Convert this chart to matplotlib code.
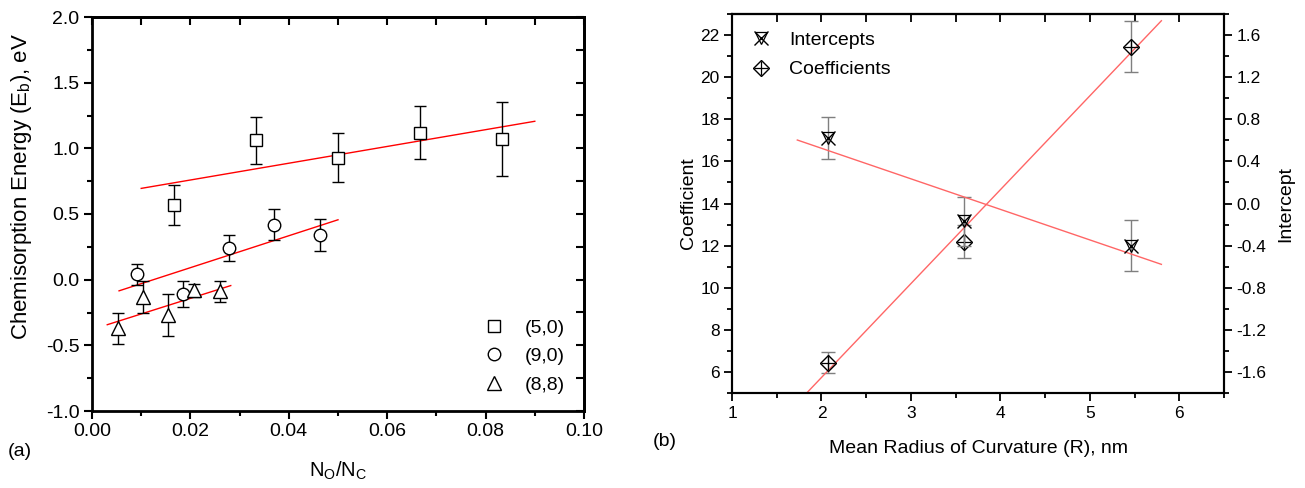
import matplotlib
matplotlib.use('Agg')
import matplotlib.pyplot as plt
from matplotlib.ticker import MultipleLocator, FixedLocator, NullFormatter
from matplotlib.lines import Line2D
from matplotlib.legend_handler import HandlerTuple

plt.rcParams['font.family'] = ['Liberation Sans', 'DejaVu Sans']

# ---------------- Panel (a) data ----------------
x50 = [0.0167, 0.0333, 0.0500, 0.0667, 0.0833]
y50 = [0.57, 1.06, 0.93, 1.12, 1.07]
e50 = [0.15, 0.18, 0.19, 0.20, 0.28]
fit50_x = [0.010, 0.090]
fit50_y = [0.695, 1.206]

x90 = [0.0092, 0.0185, 0.0278, 0.0370, 0.0464]
y90 = [0.04, -0.11, 0.24, 0.42, 0.34]
e90 = [0.08, 0.10, 0.10, 0.12, 0.12]
fit90_x = [0.0055, 0.050]
fit90_y = [-0.085, 0.456]

x88 = [0.0052, 0.0104, 0.0155, 0.0208, 0.0260]
y88 = [-0.37, -0.13, -0.27, -0.08, -0.09]
e88 = [0.12, 0.12, 0.16, 0.05, 0.08]
fit88_x = [0.0031, 0.0282]
fit88_y = [-0.343, -0.045]

legend_a = ['(5,0)', '(9,0)', '(8,8)']

# ---------------- Panel (b) data ----------------
radius = [2.07, 3.59, 5.46]
coeff = [6.44, 12.19, 21.45]
coeff_err = [0.50, 0.80, 1.20]
intercept = [0.62, -0.17, -0.40]
intercept_err = [0.20, 0.23, 0.24]
fitc_x = [1.835, 5.80]
fitc_y = [5.0, 22.68]
fiti_x = [1.73, 5.80]
fiti_y = [0.603, -0.578]

W, H = 1305, 488
fig = plt.figure(figsize=(W / 100, H / 100), dpi=100)

# ================= Panel (a) =================
ax = fig.add_axes([92 / W, (H - 411) / H, 492 / W, 394 / H])
common = dict(color='black', ecolor='black', elinewidth=1.0, capsize=4.5,
              capthick=1.0, linestyle='none', markerfacecolor='white',
              markeredgecolor='black', markeredgewidth=1.0, zorder=3)
ax.errorbar(x50, y50, yerr=e50, marker='s', markersize=8, **common)
ax.errorbar(x90, y90, yerr=e90, marker='o', markersize=9, **common)
ax.errorbar(x88, y88, yerr=e88, marker='^', markersize=10, **common)
ax.plot(fit50_x, fit50_y, color='red', lw=1.0, zorder=2)
ax.plot(fit90_x, fit90_y, color='red', lw=1.0, zorder=2)
ax.plot(fit88_x, fit88_y, color='red', lw=1.0, zorder=2)

ax.set_xlim(0, 0.10)
ax.set_ylim(-1.0, 2.0)
ax.xaxis.set_major_locator(MultipleLocator(0.02))
ax.xaxis.set_minor_locator(MultipleLocator(0.01))
ax.yaxis.set_major_locator(MultipleLocator(0.5))
ax.yaxis.set_minor_locator(MultipleLocator(0.25))
ax.xaxis.set_major_formatter(plt.FuncFormatter(lambda v, p: f'{v:.2f}'))
ax.yaxis.set_major_formatter(plt.FuncFormatter(lambda v, p: f'{v:.1f}'))
ax.tick_params(which='both', direction='out', labelsize=14, width=1.5)
ax.tick_params(which='major', length=6, pad=3)
ax.tick_params(which='minor', length=3.5)
# inward ticks on top and right
sa_top = ax.secondary_xaxis('top')
sa_top.xaxis.set_major_locator(MultipleLocator(0.01))
sa_top.xaxis.set_major_formatter(NullFormatter())
sa_top.tick_params(direction='in', length=6, width=1.5)
sa_right = ax.secondary_yaxis('right')
sa_right.yaxis.set_major_locator(MultipleLocator(0.25))
sa_right.yaxis.set_major_formatter(NullFormatter())
sa_right.tick_params(direction='in', length=6, width=1.5)
for s in list(ax.spines.values()) + [sa_top.spines['top'], sa_right.spines['right']]:
    s.set_linewidth(2.0)
ax.set_ylabel('Chemisorption Energy (E$_\\mathregular{b}$), eV', fontsize=16)
ax.yaxis.set_label_coords(-0.118, 0.569)
ax.set_xlabel('N$_\\mathregular{O}$/N$_\\mathregular{C}$', fontsize=14.5, labelpad=14)

hs = [Line2D([], [], marker=m, ls='none', mfc='white', mec='black', mew=1.0, ms=ms)
      for m, ms in (('s', 8), ('o', 9), ('^', 10))]
ax.legend(hs, legend_a, loc='lower right', bbox_to_anchor=(0.997, 0.0),
          frameon=False, fontsize=14, handlelength=1.0, handletextpad=1.1,
          labelspacing=0.55)
fig.text(20 / W, 1 - 452 / H, '(a)', fontsize=14, ha='center', va='center')

# ================= Panel (b) =================
bx = fig.add_axes([732 / W, (H - 393) / H, 492 / W, 379 / H])
bx2 = bx.twinx()
gray = '#7f7f7f'
bx.errorbar(radius, coeff, yerr=coeff_err, fmt='none', ecolor=gray,
            elinewidth=1.0, capsize=5, capthick=1.0, zorder=2)
bx.plot(radius, coeff, ls='none', marker='D', ms=8, mfc='none', mec='black',
        mew=1.0, zorder=4)
bx.plot(radius, coeff, ls='none', marker='+', ms=10, mec='black', mew=0.9, zorder=4)
bx.plot(fitc_x, fitc_y, color='#ff6666', lw=1.0, zorder=3)

bx2.errorbar(radius, intercept, yerr=intercept_err, fmt='none', ecolor=gray,
             elinewidth=1.0, capsize=5, capthick=1.0, zorder=2)
bx2.plot(radius, intercept, ls='none', marker='x', ms=10, mec='black', mew=1.0, zorder=4)
bx2.plot(radius, intercept, ls='none', marker='v', ms=9, mfc='none', mec='black',
         mew=0.9, zorder=4)
bx2.plot(fiti_x, fiti_y, color='#ff6666', lw=1.0, zorder=3)

bx.set_xlim(1, 6.5)
bx.set_ylim(5, 23)
bx2.set_ylim(-1.8, 1.8)
bx.xaxis.set_major_locator(MultipleLocator(1))
bx.xaxis.set_minor_locator(MultipleLocator(0.5))
bx.yaxis.set_major_locator(FixedLocator([6, 8, 10, 12, 14, 16, 18, 20, 22]))
bx.yaxis.set_minor_locator(MultipleLocator(1))
bx2.yaxis.set_major_locator(FixedLocator([-1.6, -1.2, -0.8, -0.4, 0.0, 0.4, 0.8, 1.2, 1.6]))
bx2.yaxis.set_minor_locator(MultipleLocator(0.2))
bx2.yaxis.set_major_formatter(plt.FuncFormatter(lambda v, p: f'{v:.1f}'))
bx.tick_params(which='both', direction='out', labelsize=12.5, width=1.3, right=False)
bx.tick_params(which='major', length=6, pad=3)
bx.tick_params(which='minor', length=3.5)
bx2.tick_params(which='both', direction='out', labelsize=12.5, width=1.3)
bx2.tick_params(which='major', length=6, pad=3)
bx2.tick_params(which='minor', length=3.5)
sec = bx.secondary_xaxis('top')
sec.xaxis.set_major_locator(MultipleLocator(0.5))
sec.xaxis.set_major_formatter(NullFormatter())
sec.tick_params(direction='in', length=6, width=1.3)
sec.spines['top'].set_linewidth(1.5)
for s in list(bx.spines.values()) + list(bx2.spines.values()):
    s.set_linewidth(1.5)
bx.set_ylabel('Coefficient', fontsize=14, labelpad=2)
bx2.set_ylabel('Intercept', fontsize=14, labelpad=8)
bx.set_xlabel('Mean Radius of Curvature (R), nm', fontsize=14, labelpad=14)

h_int = (Line2D([], [], ls='none', marker='x', ms=10, mec='black', mew=1.0),
         Line2D([], [], ls='none', marker='v', ms=9, mfc='none', mec='black', mew=0.9))
h_coef = (Line2D([], [], ls='none', marker='D', ms=8, mfc='none', mec='black', mew=1.0),
          Line2D([], [], ls='none', marker='+', ms=10, mec='black', mew=0.9))
bx.legend([h_int, h_coef], ['Intercepts', 'Coefficients'],
          handler_map={tuple: HandlerTuple(ndivide=1, pad=0)},
          loc='upper left', bbox_to_anchor=(0.0, 1.0), frameon=False,
          fontsize=14, handlelength=1.2, handletextpad=0.85, labelspacing=0.6)
fig.text(665 / W, 1 - 442 / H, '(b)', fontsize=14, ha='center', va='center')

fig.savefig('out.png', dpi=100)
